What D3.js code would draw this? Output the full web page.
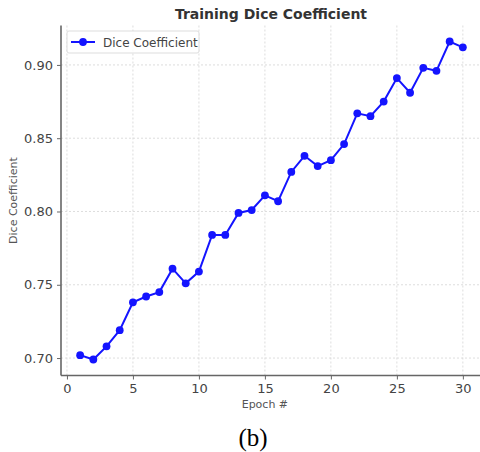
<!DOCTYPE html>
<html><head><meta charset="utf-8">
<script src="https://cdn.jsdelivr.net/npm/d3@7"></script>
<style>body{margin:0;background:#fff;}svg{display:block;}</style>
</head><body>
<svg id="chart" width="480" height="452"></svg>
<script>
const epochs = d3.range(1, 31);
const dice = [0.702, 0.699, 0.708, 0.719, 0.738, 0.742, 0.745, 0.761, 0.751, 0.759,
              0.784, 0.784, 0.799, 0.801, 0.811, 0.807, 0.827, 0.838, 0.831, 0.835,
              0.846, 0.867, 0.865, 0.875, 0.891, 0.881, 0.898, 0.896, 0.916, 0.912];
const xTicks = [0, 5, 10, 15, 20, 25, 30];
const yTicks = [0.70, 0.75, 0.80, 0.85, 0.90];
const title = "Training Dice Coefficient";
const xLabel = "Epoch #";
const yLabel = "Dice Coefficient";
const seriesName = "Dice Coefficient";
const caption = "(b)";

const svg = d3.select("#chart");
const L = 61, R = 482, T = 25.5, B = 375.5;
const x = d3.scaleLinear().domain([-0.45, 31.45]).range([L, R]);
const y = d3.scaleLinear().domain([0.6881, 0.9269]).range([B, T]);

const font = "'DejaVu Sans', sans-serif";
const grid = svg.append("g");
xTicks.forEach(t => grid.append("line").attr("x1", x(t)).attr("x2", x(t)).attr("y1", T).attr("y2", B)
  .attr("stroke", "#d4d4d4").attr("stroke-width", 0.8).attr("stroke-dasharray", "2,2"));
yTicks.forEach(t => grid.append("line").attr("x1", L).attr("x2", R).attr("y1", y(t)).attr("y2", y(t))
  .attr("stroke", "#d4d4d4").attr("stroke-width", 0.8).attr("stroke-dasharray", "2,2"));

const xAxis = svg.append("g").attr("transform", `translate(0,${B})`)
  .call(d3.axisBottom(x).tickValues(xTicks).tickFormat(d3.format("d")).tickSize(4).tickSizeOuter(0).tickPadding(4));
const yAxis = svg.append("g").attr("transform", `translate(${L},0)`)
  .call(d3.axisLeft(y).tickValues(yTicks).tickFormat(d3.format(".2f")).tickSize(4).tickSizeOuter(0).tickPadding(4));
[xAxis, yAxis].forEach(a => {
  a.select(".domain").attr("stroke", "#666").attr("stroke-width", 1.6);
  a.selectAll(".tick line").attr("stroke", "#666").attr("stroke-width", 1);
  a.selectAll("text").attr("font-family", font).attr("font-size", 13).attr("fill", "#444");
});
xAxis.select(".domain").attr("d", `M${L},0H${R}`);
yAxis.select(".domain").attr("d", `M0,${T}V${B}`);

const line = d3.line().x((d, i) => x(epochs[i])).y(d => y(d));
svg.append("path").datum(dice).attr("d", line).attr("fill", "none")
  .attr("stroke", "#1414ff").attr("stroke-width", 2);
svg.selectAll("circle.pt").data(dice).enter().append("circle").attr("class", "pt")
  .attr("cx", (d, i) => x(epochs[i])).attr("cy", d => y(d)).attr("r", 3.9).attr("fill", "#1414ff");

svg.append("text").attr("x", 271).attr("y", 19).attr("text-anchor", "middle")
  .attr("font-family", font).attr("font-weight", "bold").attr("font-size", 14).attr("fill", "#333").text(title);
svg.append("text").attr("x", x(15)).attr("y", 408).attr("text-anchor", "middle")
  .attr("font-family", font).attr("font-size", 11).attr("fill", "#555").text(xLabel);
svg.append("text").attr("transform", `translate(17,${(T + B) / 2}) rotate(-90)`).attr("text-anchor", "middle")
  .attr("font-family", font).attr("font-size", 11).attr("fill", "#555").text(yLabel);

const lg = svg.append("g");
lg.append("rect").attr("x", 67).attr("y", 31).attr("width", 132).attr("height", 22).attr("rx", 2)
  .attr("fill", "#fff").attr("fill-opacity", 0.85).attr("stroke", "#ddd");
lg.append("line").attr("x1", 71).attr("x2", 95).attr("y1", 42).attr("y2", 42).attr("stroke", "#1414ff").attr("stroke-width", 2);
lg.append("circle").attr("cx", 83).attr("cy", 42).attr("r", 3.9).attr("fill", "#1414ff");
lg.append("text").attr("x", 103).attr("y", 46.5).attr("font-family", font).attr("font-size", 12).attr("fill", "#444").text(seriesName);

svg.append("text").attr("x", 253).attr("y", 446).attr("text-anchor", "middle")
  .attr("font-family", "'Liberation Serif', 'Times New Roman', serif").attr("font-size", 25).attr("fill", "#000").text(caption);
</script>
</body></html>
